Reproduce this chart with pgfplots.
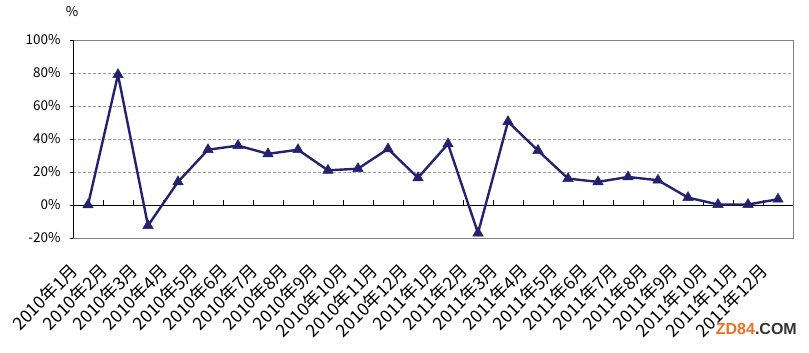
\documentclass[border=0pt]{standalone}
\usepackage{fontspec}
\setmainfont{Noto Sans CJK SC}
\newfontfamily\lat{Liberation Sans}
\usepackage{pgfplots}
\pgfplotsset{compat=1.18}
\definecolor{navy}{RGB}{36,34,110}
\definecolor{wmorange}{RGB}{240,112,32}
\pgfplotstableread{
x y
0 0
1 79
2 -12.5
3 14
4 33.5
5 36
6 31
7 33.5
8 21
9 22
10 34
11 16.5
12 37
13 -17
14 50.5
15 33
16 16
17 14
18 17
19 15
20 4.5
21 0.3
22 0.3
23 3.5
}\datatable
\begin{document}
\begin{tikzpicture}
\useasboundingbox (0,0) rectangle (809pt,353pt);
\begin{axis}[
  at={(73pt,115pt)}, anchor=south west,
  scale only axis, width=720pt, height=198pt,
  xmin=-0.5, xmax=23.5, ymin=-20, ymax=100,
  xtick={0,...,23},
  xticklabels={2010年1月,2010年2月,2010年3月,2010年4月,2010年5月,2010年6月,2010年7月,2010年8月,2010年9月,2010年10月,2010年11月,2010年12月,2011年1月,2011年2月,2011年3月,2011年4月,2011年5月,2011年6月,2011年7月,2011年8月,2011年9月,2011年10月,2011年11月,2011年12月},
  x tick label style={rotate=45, anchor=north east, inner sep=0pt, xshift=-28pt, yshift=-1pt, font=\fontsize{17.5}{19}\selectfont},
  ytick={-20,0,20,40,60,80,100},
  yticklabels={-20\%,0\%,20\%,40\%,60\%,80\%,100\%},
  y tick label style={font=\fontsize{13.5}{15}\selectfont, xshift=-6pt},
  xtick pos=bottom, ytick pos=left,
  tick align=outside,
  x tick style={draw=none},
  y tick style={black},
  major tick length=3pt,
  ymajorgrids, grid style={densely dashed, gray!80, line width=0.6pt},
  axis line style={gray, line width=0.8pt},
  clip=false,
]
\draw[black, line width=0.8pt] (rel axis cs:0,0) -- (rel axis cs:0,1);
\draw[black, line width=0.8pt] (axis cs:-0.5,0) -- (axis cs:23.5,0);
\pgfplotsinvokeforeach{0.5,1.5,2.5,3.5,4.5,5.5,6.5,7.5,8.5,9.5,10.5,11.5,12.5,13.5,14.5,15.5,16.5,17.5,18.5,19.5,20.5,21.5,22.5}{
  \draw[black, line width=0.8pt] (axis cs:#1,0) -- ([yshift=5pt]axis cs:#1,0);
}
\addplot[navy, line width=2.4pt, mark=triangle*, mark size=6pt, mark options={fill=navy, draw=navy, line width=0.5pt}] table[x=x,y=y] {\datatable};
\end{axis}
\node[font=\fontsize{13.5}{15}\selectfont] at (72pt,341pt) {\%};
\node[anchor=east, font=\lat\bfseries\fontsize{16}{18}\selectfont, inner sep=0pt] at (797pt,24pt) {\textcolor{wmorange}{ZD84}\textcolor{black!80}{.COM}};
\end{tikzpicture}
\end{document}
